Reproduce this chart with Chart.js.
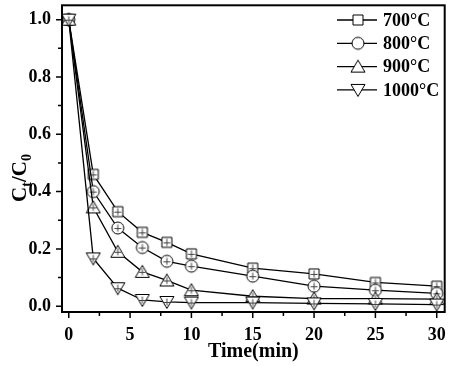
<!DOCTYPE html>
<html>
<head>
<meta charset="utf-8">
<script src="https://cdn.jsdelivr.net/npm/chart.js@4/dist/chart.umd.min.js"></script>
<style>
  html, body { margin: 0; padding: 0; background: #fff; }
  canvas { display: block; }
</style>
</head>
<body>
<canvas id="chart" width="450" height="366"></canvas>
<script>
// data
const times = [0, 2, 4, 6, 8, 10, 15, 20, 25, 30];
const c700 = [1.0, 0.46, 0.33, 0.258, 0.223, 0.183, 0.133, 0.113, 0.083, 0.07];
const c800 = [1.0, 0.40, 0.273, 0.205, 0.157, 0.14, 0.105, 0.07, 0.056, 0.045];
const c900 = [1.0, 0.345, 0.19, 0.12, 0.09, 0.056, 0.035, 0.027, 0.027, 0.025];
const c1000 = [1.0, 0.167, 0.063, 0.022, 0.015, 0.013, 0.013, 0.01, 0.008, 0.006];
const seriesNames = ['700°C', '800°C', '900°C', '1000°C'];
const xTicks = [0, 5, 10, 15, 20, 25, 30];
const xMinor = [2.5, 7.5, 12.5, 17.5, 22.5, 27.5];
const yTicks = [0.0, 0.2, 0.4, 0.6, 0.8, 1.0];
const yMinor = [0.1, 0.3, 0.5, 0.7, 0.9];

const FONT = '"Liberation Serif", "Times New Roman", serif';

// hollow marker, optionally with the little cross inside
function makeMarker(shape, cross) {
    const s = 16, c = s / 2;
    const cv = document.createElement('canvas');
    cv.width = s; cv.height = s;
    const g = cv.getContext('2d');
    g.lineWidth = 1;
    g.strokeStyle = '#000';
    g.fillStyle = '#fff';
    g.beginPath();
    if (shape === 'square') {
        g.rect(c - 5, c - 5, 10, 10);
    } else if (shape === 'circle') {
        g.arc(c, c, 6, 0, Math.PI * 2);
    } else if (shape === 'up') {
        g.moveTo(c, 1.5); g.lineTo(c + 7, 13.5); g.lineTo(c - 7, 13.5); g.closePath();
    } else {
        g.moveTo(c, 14.5); g.lineTo(c + 7, 2.5); g.lineTo(c - 7, 2.5); g.closePath();
    }
    g.fill();
    g.stroke();
    if (cross) {
        g.strokeStyle = '#444';
        g.beginPath();
        g.moveTo(c, c - 3.5); g.lineTo(c, c + 3.5);
        g.moveTo(c - 3.5, c + 0.5); g.lineTo(c + 3.5, c + 0.5);
        g.stroke();
    }
    return cv;
}

const shapes = ['square', 'circle', 'up', 'down'];
const allSeries = [c700, c800, c900, c1000];

const datasets = allSeries.map((vals, i) => ({
    label: seriesNames[i],
    data: times.map((t, j) => ({ x: t, y: vals[j] })),
    borderColor: '#000',
    borderWidth: 1.3,
    pointStyle: makeMarker(shapes[i], true),
    tension: 0,
    fill: false,
    order: 3 - i // 1000°C ends up on top, like the reference
}));

const legendMarkers = shapes.map(s => makeMarker(s, false));

const framePlugin = {
    id: 'frame',
    afterDraw(chart) {
        const ctx = chart.ctx;
        const a = chart.chartArea;
        const xs = chart.scales.x, ys = chart.scales.y;
        ctx.save();
        ctx.strokeStyle = '#000';
        ctx.lineWidth = 2;
        ctx.strokeRect(a.left, a.top, a.right - a.left, a.bottom - a.top);

        // outward ticks
        ctx.lineWidth = 1.5;
        ctx.beginPath();
        xTicks.forEach(v => { const p = xs.getPixelForValue(v); ctx.moveTo(p, a.bottom); ctx.lineTo(p, a.bottom + 6); });
        xMinor.forEach(v => { const p = xs.getPixelForValue(v); ctx.moveTo(p, a.bottom); ctx.lineTo(p, a.bottom + 4); });
        yTicks.forEach(v => { const p = ys.getPixelForValue(v); ctx.moveTo(a.left, p); ctx.lineTo(a.left - 6, p); });
        yMinor.forEach(v => { const p = ys.getPixelForValue(v); ctx.moveTo(a.left, p); ctx.lineTo(a.left - 4, p); });
        ctx.stroke();

        // legend inside the plot, top right
        ctx.lineWidth = 1.3;
        ctx.fillStyle = '#000';
        ctx.font = 'bold 18px ' + FONT;
        ctx.textBaseline = 'middle';
        seriesNames.forEach((name, i) => {
            const y = 20 + i * 23.3;
            ctx.beginPath();
            ctx.moveTo(337, y); ctx.lineTo(377, y);
            ctx.stroke();
            ctx.drawImage(legendMarkers[i], 358 - 8, y - 8);
            ctx.fillText(name, 383, y + 1);
        });

        // y axis title with subscripts
        ctx.translate(19, 178);
        ctx.rotate(-Math.PI / 2);
        const big = 'bold 21px ' + FONT, small = 'bold 14px ' + FONT;
        const parts = [['C', big, 0], ['t', small, 5], ['/C', big, 0], ['0', small, 5]];
        let w = 0;
        parts.forEach(p => { ctx.font = p[1]; w += ctx.measureText(p[0]).width; });
        let x = -w / 2;
        ctx.textBaseline = 'alphabetic';
        parts.forEach(p => {
            ctx.font = p[1];
            ctx.fillText(p[0], x, 7 + p[2]);
            x += ctx.measureText(p[0]).width;
        });
        ctx.restore();
    }
};

new Chart(document.getElementById('chart'), {
    type: 'line',
    data: { datasets },
    options: {
        responsive: false,
        animation: false,
        devicePixelRatio: 1,
        layout: { padding: { top: 5, right: 5, left: 0, bottom: 0 } },
        plugins: { legend: { display: false }, tooltip: { enabled: false } },
        scales: {
            x: {
                type: 'linear',
                min: -0.55,
                max: 30.65,
                afterBuildTicks: s => { s.ticks = xTicks.map(v => ({ value: v })); },
                afterFit: s => { s.height = 54; s.paddingLeft = 0; s.paddingRight = 0; },
                grid: { display: false, drawTicks: false },
                border: { display: false },
                ticks: { color: '#000', font: { family: FONT, size: 18, weight: 'bold' }, padding: 13, maxRotation: 0 },
                title: {
                    display: true,
                    text: 'Time(min)',
                    color: '#000',
                    font: { family: FONT, size: 20, weight: 'bold' },
                    padding: { top: 0, bottom: 2 }
                }
            },
            y: {
                min: -0.02,
                max: 1.05,
                afterBuildTicks: s => { s.ticks = yTicks.map(v => ({ value: v })); },
                afterFit: s => { s.width = 62; s.paddingTop = 0; s.paddingBottom = 0; },
                grid: { display: false, drawTicks: false },
                border: { display: false },
                ticks: { color: '#000', font: { family: FONT, size: 18, weight: 'bold' }, padding: 11,
                    callback: v => v.toFixed(1) }
            }
        }
    },
    plugins: [framePlugin]
});
</script>
</body>
</html>
